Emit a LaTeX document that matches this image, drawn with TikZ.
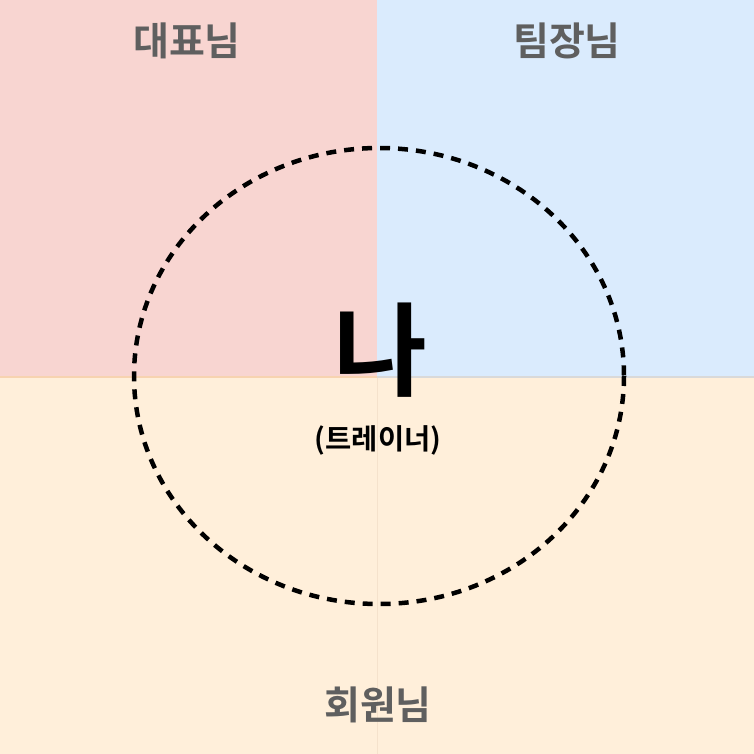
\documentclass[tikz,border=0pt]{standalone}
\usepackage{fontspec}
\newfontfamily\kr{Noto Sans CJK KR Bold}
\definecolor{pinkbg}{HTML}{F8D5D1}
\definecolor{bluebg}{HTML}{DAEBFD}
\definecolor{orangebg}{HTML}{FFEFDA}
\definecolor{labelgray}{HTML}{5F5F5F}
\definecolor{sepline}{HTML}{F7D3B0}
\definecolor{vline}{HTML}{F5E2CC}
\tikzset{
  lab/.style={font=\kr\fontsize{39}{42}\selectfont, text=labelgray, inner sep=0pt},
}
\begin{document}
\begin{tikzpicture}[x=1pt,y=-1pt]
\useasboundingbox (0,0) rectangle (754,754);
\fill[pinkbg] (0,0) rectangle (377,377);
\fill[bluebg] (377,0) rectangle (754,377);
\fill[orangebg] (0,377) rectangle (754,754);
\draw[vline, line width=1pt] (377,377) -- (377,754);
\draw[sepline, line width=1.5pt] (0,377) -- (377,377);
\draw[black!15, line width=1.5pt] (377,377) -- (754,377);
\node[lab] (ceo) at (187,41) {대표님};
\node[lab] (lead) at (567,41) {팀장님};
\node[lab] (member) at (378,705) {회원님};
\draw[line width=4.5pt, dash pattern=on 10pt off 8pt] (379,376) ellipse [x radius=245, y radius=228];
\node[inner sep=0pt, font=\kr\fontsize{102}{102}\selectfont] (me) at (380,350) {나};
\node[inner sep=0pt, font=\kr\fontsize{28.5}{30}\selectfont] (role) at (378,440) {(트레이너)};
\end{tikzpicture}
\end{document}
